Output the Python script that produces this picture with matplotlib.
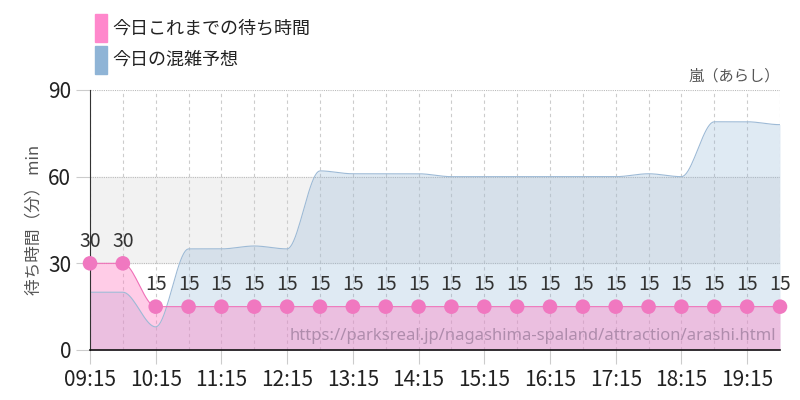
import matplotlib
matplotlib.use("Agg")
import matplotlib.pyplot as plt
import numpy as np
from matplotlib.patches import Rectangle

plt.rcParams['font.family'] = ['Liberation Sans Narrow', 'Noto Sans CJK JP', 'DejaVu Sans']

times = ["09:15","09:45","10:15","10:45","11:15","11:45","12:15","12:45","13:15","13:45","14:15",
         "14:45","15:15","15:45","16:15","16:45","17:15","17:45","18:15","18:45","19:15","19:45"]
actual = [30,30,15,15,15,15,15,15,15,15,15,15,15,15,15,15,15,15,15,15,15,15]
forecast = [20,20,8,35,35,36,35,62,61,61,61,60,60,60,60,60,60,61,60,79,79,78]
tick_labels = ["09:15","10:15","11:15","12:15","13:15","14:15","15:15","16:15","17:15","18:15","19:15"]

x = np.arange(len(times))

def smooth(xs, ys, n=20):
    xs = np.asarray(xs, float); ys = np.asarray(ys, float)
    m = np.zeros_like(ys)
    d = np.diff(ys)
    for i in range(1, len(ys)-1):
        if d[i-1]*d[i] > 0:
            m[i] = 2/(1/d[i-1]+1/d[i])
    ox, oy = [], []
    for i in range(len(xs)-1):
        t = np.linspace(0, 1, n, endpoint=False)
        h00 = 2*t**3-3*t**2+1; h10 = t**3-2*t**2+t; h01 = -2*t**3+3*t**2; h11 = t**3-t**2
        ox.append(xs[i]+t); oy.append(h00*ys[i]+h10*m[i]+h01*ys[i+1]+h11*m[i+1])
    ox.append([xs[-1]]); oy.append([ys[-1]])
    return np.concatenate(ox), np.concatenate(oy)

fig = plt.figure(figsize=(8, 4), dpi=100)
ax = fig.add_axes([0.1125, 0.125, 0.8625, 0.65])
ax.set_xlim(0, len(times)-1)
ax.set_ylim(0, 90)
ax.axhspan(30, 60, color='#f2f2f2', zorder=0)

fx, fy = smooth(x, forecast)
ax.fill_between(fx, 0, fy, color='#8fb4d6', alpha=0.28, lw=0, zorder=1)
ax.plot(fx, fy, color='#9dbad6', lw=0.8, zorder=2)
ax_, ay = smooth(x, actual)
ax.fill_between(ax_, 0, ay, color='#ff80c4', alpha=0.4, lw=0, zorder=1.5)
ax.plot(ax_, ay, color='#f070b8', lw=0.8, zorder=3)
ax.scatter(x, actual, s=110, color='#f078c0', zorder=4, clip_on=False, edgecolor='none')
for xi, v in zip(x, actual):
    ax.text(xi, v+4, str(v), ha='center', va='bottom', fontsize=14, color='#333333', zorder=5)

for xi in x:
    ax.axvline(xi, color='#cccccc', lw=0.8, ls=(0, (3, 3)), zorder=0.5)
for yv in [30, 60, 90]:
    ax.axhline(yv, color='#bbbbbb', lw=0.8, ls=(0, (1, 1)), zorder=0.5)

ax.set_xticks(x[::2])
ax.set_xticklabels(tick_labels, fontsize=15, color='#222222')
ax.set_yticks([0, 30, 60, 90])
ax.set_yticklabels(['0', '30', '60', '90'], fontsize=15, color='#222222')
ax.tick_params(axis='both', length=10, color='#cccccc', width=0.8)
for s in ['top', 'right']:
    ax.spines[s].set_visible(False)
ax.spines['left'].set_color('#333333')
ax.spines['bottom'].set_color('#111111')
ax.spines['bottom'].set_linewidth(1.2)
ax.set_ylabel('待ち時間（分） min', fontsize=12, color='#555555', family=['Noto Sans CJK JP'])

ax.text(1.0, 1.02, '嵐（あらし）', transform=ax.transAxes, ha='right', va='bottom',
        fontsize=11, color='#555555', family=['Noto Sans CJK JP'])
ax.text(0.995, 0.025, 'https://parksreal.jp/nagashima-spaland/attraction/arashi.html',
        transform=ax.transAxes, ha='right', va='bottom', fontsize=12, color='#a080a0',
        alpha=0.8, family=['Noto Sans', 'DejaVu Sans'], zorder=6)

fig.patches.append(Rectangle((95/800, 1-42/400), 12/800, 28/400, transform=fig.transFigure, color='#ff88cc'))
fig.patches.append(Rectangle((95/800, 1-74/400), 12/800, 28/400, transform=fig.transFigure, color='#8fb4d6'))
fig.text(112/800, 1-28/400, '今日これまでの待ち時間', fontsize=13, va='center', family=['Noto Sans CJK JP'], color='#222222')
fig.text(112/800, 1-60/400, '今日の混雑予想', fontsize=13, va='center', family=['Noto Sans CJK JP'], color='#222222')

fig.savefig('out.png', dpi=100)
